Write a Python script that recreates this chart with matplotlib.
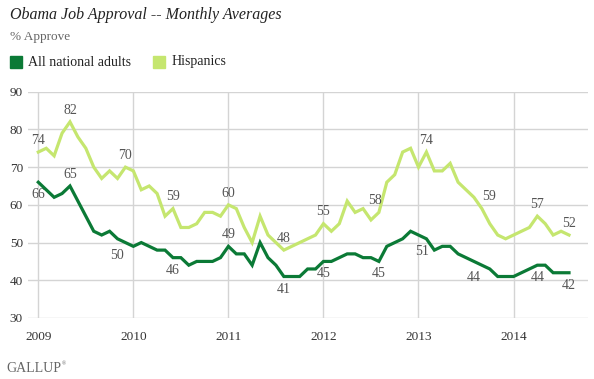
import numpy as np
import matplotlib.pyplot as plt

# Données : moyennes mensuelles, janvier 2009 -> août 2014
annees = ["2009", "2010", "2011", "2012", "2013", "2014"]

national = [66, 64, 62, 63, 65, 61, 57, 53, 52, 53, 51, 50,
            49, 50, 49, 48, 48, 46, 46, 44, 45, 45, 45, 46,
            49, 47, 47, 44, 50, 46, 44, 41, 41, 41, 43, 43,
            45, 45, 46, 47, 47, 46, 46, 45, 49, 50, 51, 53,
            52, 51, 48, 49, 49, 47, 46, 45, 44, 43, 41, 41,
            41, 42, 43, 44, 44, 42, 42, 42]

hispanics = [74, 75, 73, 79, 82, 78, 75, 70, 67, 69, 67, 70,
             69, 64, 65, 63, 57, 59, 54, 54, 55, 58, 58, 57,
             60, 59, 54, 50, 57, 52, 50, 48, 49, 50, 51, 52,
             55, 53, 55, 61, 58, 59, 56, 58, 66, 68, 74, 75,
             70, 74, 69, 69, 71, 66, 64, 62, 59, 55, 52, 51,
             52, 53, 54, 57, 55, 52, 53, 52]

# mois étiquetés
idx_nat = [0, 4, 11, 17, 24, 31, 36, 43, 49, 56, 63, 67]
idx_his = [0, 4, 11, 17, 24, 31, 36, 43, 49, 56, 63, 67]

vert_fonce = "#0b7a36"
vert_clair = "#c5e66f"
gris = "#555555"
serif = "Liberation Serif"

mois = np.arange(len(national))

fig = plt.figure(figsize=(5.94, 3.79), dpi=100)
ax = fig.add_axes([28 / 594, 1 - 318 / 379, 560 / 594, (318 - 91.7) / 379])

ax.plot(mois, hispanics, color=vert_clair, lw=2.3, solid_joinstyle="miter", zorder=3)
ax.plot(mois, national, color=vert_fonce, lw=2.3, solid_joinstyle="miter", zorder=4)

# étiquettes de valeurs (décalages en points)
dx_nat = {11: -6, 49: -3, 56: -6}
dx_his = {43: -3, 56: 5}
for i in idx_his:
    ax.annotate(str(hispanics[i]), xy=(mois[i], hispanics[i]),
                xytext=(dx_his.get(i, 0), 8.5), textcoords="offset points",
                ha="center", va="center", fontsize=10, color=gris, family=serif)
above_nat = [4, 24]
for i in idx_nat:
    dy = 8.5 if i in above_nat else -9
    ax.annotate(str(national[i]), xy=(mois[i], national[i]),
                xytext=(dx_nat.get(i, 0), dy), textcoords="offset points",
                ha="center", va="center", fontsize=10, color=gris, family=serif)

ax.set_xlim(-1.3, 69.4)
ax.set_ylim(30, 90)
ax.set_yticks(range(30, 91, 10))
ax.set_xticks(np.arange(0, 61, 12))
ax.set_xticklabels(annees)
ax.grid(True, color="#d4d4d4", lw=1)
ax.set_axisbelow(True)
for s in ax.spines.values():
    s.set_visible(False)
ax.tick_params(axis="both", length=0, labelsize=9.5, labelcolor="#333333")
ax.tick_params(axis="y", pad=3.6)
ax.tick_params(axis="x", pad=9)
for lab in ax.get_xticklabels() + ax.get_yticklabels():
    lab.set_family(serif)

# titre, sous-titre, légende
fig.text(10 / 594, 1 - 15 / 379, "Obama Job Approval -- Monthly Averages",
         fontsize=11.5, style="italic", family=serif, color="#222222", va="center")
fig.text(10 / 594, 1 - 37 / 379, "% Approve", fontsize=9.5, family=serif,
         color="#666666", va="center")
fig.patches.append(plt.Rectangle((10 / 594, 1 - 68 / 379), 12 / 594, 12 / 379,
                                 transform=fig.transFigure, color=vert_fonce))
fig.text(28 / 594, 1 - 62 / 379, "All national adults", fontsize=10,
         family=serif, color="#222222", va="center")
fig.patches.append(plt.Rectangle((153 / 594, 1 - 68 / 379), 12 / 594, 12 / 379,
                                 transform=fig.transFigure, color=vert_clair))
fig.text(172 / 594, 1 - 62 / 379, "Hispanics", fontsize=10,
         family=serif, color="#222222", va="center")

fig.text(6 / 594, 1 - 368 / 379, "GALLUP", fontsize=10, family=serif,
         color="#666666", va="center")
fig.text(62 / 594, 1 - 364 / 379, "®", fontsize=4, family=serif,
         color="#666666", va="center")

fig.savefig("out.png", dpi=100)
